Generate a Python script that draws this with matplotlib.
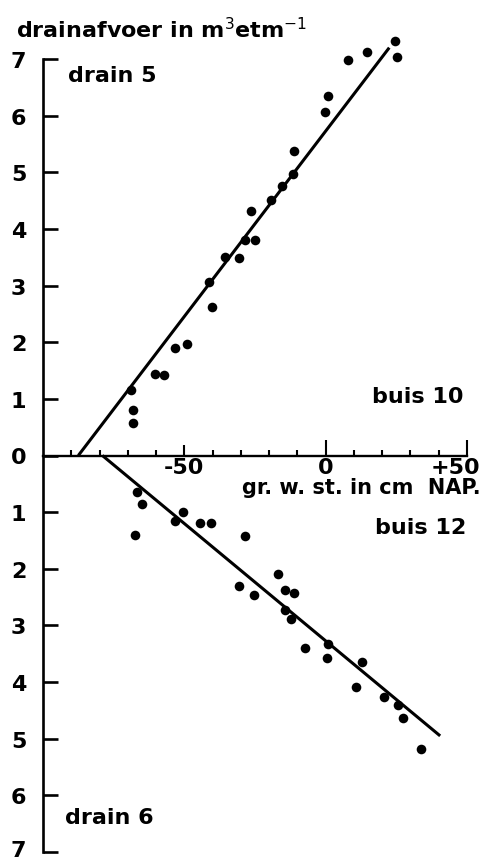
import matplotlib
matplotlib.use("Agg")
import matplotlib.pyplot as plt
import matplotlib.transforms as mtransforms

# Drain 5 (buis 10): groundwater level (cm NAP) vs drain discharge
drain5_x = [24.7, 25.3, 14.7, 7.9, 0.9, -0.2, -11.2, -11.4, -15.3, -19.2, -26.3,
            -28.6, -25.1, -30.6, -35.7, -41.2, -40.1, -48.9, -53.2, -57.1, -60.4,
            -68.9, -68.1, -68.0]
drain5_y = [7.31, 7.04, 7.12, 6.99, 6.35, 6.07, 5.37, 4.97, 4.75, 4.51, 4.32,
            3.80, 3.81, 3.49, 3.50, 3.07, 2.63, 1.96, 1.90, 1.43, 1.44,
            1.16, 0.80, 0.58]
# Drain 6 (buis 12): discharge plotted downward
drain6_x = [-66.8, -65.1, -67.5, -50.6, -53.4, -44.5, -40.6, -28.5, -16.7,
            -30.8, -25.3, -14.5, -11.2, -14.5, -12.1, -7.3, 0.9, 0.6, 13.0,
            10.8, 20.6, 25.5, 27.5, 33.8]
drain6_y = [0.64, 0.85, 1.41, 1.00, 1.16, 1.20, 1.19, 1.42, 2.10,
            2.30, 2.47, 2.38, 2.43, 2.72, 2.88, 3.40, 3.33, 3.57, 3.64,
            4.08, 4.27, 4.40, 4.64, 5.19]
# fitted lines (end points)
fit5_x = [-87.5, 22.5]
fit5_y = [0.0, 7.2]
fit6_x = [-79.0, 40.5]
fit6_y = [0.0, 4.95]

y_ticks = [7, 6, 5, 4, 3, 2, 1, 0, -1, -2, -3, -4, -5, -6, -7]
y_labels = ["7", "6", "5", "4", "3", "2", "1", "0", "1", "2", "3", "4", "5", "6", "7"]
x_major = [-50, 0, 50]
x_labels = ["-50", "0", "+50"]
x_minor = list(range(-90, 50, 10))

FS = 16
FW = "bold"
W, H = 483, 862
fig = plt.figure(figsize=(W / 100, H / 100), dpi=100)
ax = fig.add_axes([43 / W, (H - 853) / H, 424 / W, 793 / H])

ax.scatter(drain5_x, drain5_y, s=48, color="black", zorder=3, linewidths=0, clip_on=False)
ax.scatter(drain6_x, [-v for v in drain6_y], s=48, color="black", zorder=3, linewidths=0,
           clip_on=False)
ax.plot(fit5_x, fit5_y, color="black", lw=2.2, solid_capstyle="butt", clip_on=False)
ax.plot(fit6_x, [-v for v in fit6_y], color="black", lw=2.2, solid_capstyle="butt",
        clip_on=False)

ax.set_xlim(-100, 50)
ax.set_ylim(-7, 7)
for s in ["top", "right"]:
    ax.spines[s].set_visible(False)
ax.spines["bottom"].set_position(("data", 0))
ax.spines["bottom"].set_linewidth(1.7)
ax.spines["left"].set_linewidth(1.9)
ax.spines["left"].set_bounds(-7, 7)

ax.set_yticks(y_ticks)
ax.set_yticklabels(y_labels, fontsize=FS, fontweight=FW)
ax.tick_params(axis="y", direction="in", length=11, width=1.9, pad=12)

ax.set_xticks(x_major)
ax.set_xticklabels(x_labels, fontsize=FS, fontweight=FW)
ax.set_xticks(x_minor, minor=True)
ax.tick_params(axis="x", which="major", direction="in", length=11.5, width=1.5, pad=3)
ax.tick_params(axis="x", which="minor", direction="in", length=4, width=1.5)
ax.xaxis.get_major_ticks()[0].tick1line.set_markersize(8)

off = mtransforms.ScaledTranslation(-12 / 100, 3 / 100, fig.dpi_scale_trans)
lab = ax.get_xticklabels()[2]
lab.set_transform(lab.get_transform() + off)
for lab in ax.get_xticklabels()[:2]:
    lab.set_transform(lab.get_transform()
                      + mtransforms.ScaledTranslation(0, 3 / 100, fig.dpi_scale_trans))
lab = ax.get_yticklabels()[-1]
lab.set_transform(lab.get_transform()
                  + mtransforms.ScaledTranslation(0, 4 / 100, fig.dpi_scale_trans))

fig.text(16 / W, 1 - 30 / H, "drainafvoer in m$^3$etm$^{-1}$", fontsize=FS,
         fontweight=FW, ha="left", va="center")
fig.text(68 / W, 1 - 76 / H, "drain 5", fontsize=FS, fontweight=FW, ha="left", va="center")
fig.text(464 / W, 1 - 397 / H, "buis 10", fontsize=FS, fontweight=FW, ha="right", va="center")
fig.text(481 / W, 1 - 488 / H, "gr. w. st. in cm  NAP.", fontsize=FS - 1, fontweight=FW,
         ha="right", va="center")
fig.text(466 / W, 1 - 528 / H, "buis 12", fontsize=FS, fontweight=FW, ha="right", va="center")
fig.text(65 / W, 1 - 818 / H, "drain 6", fontsize=FS, fontweight=FW, ha="left", va="center")

fig.savefig("out.png", dpi=100)
